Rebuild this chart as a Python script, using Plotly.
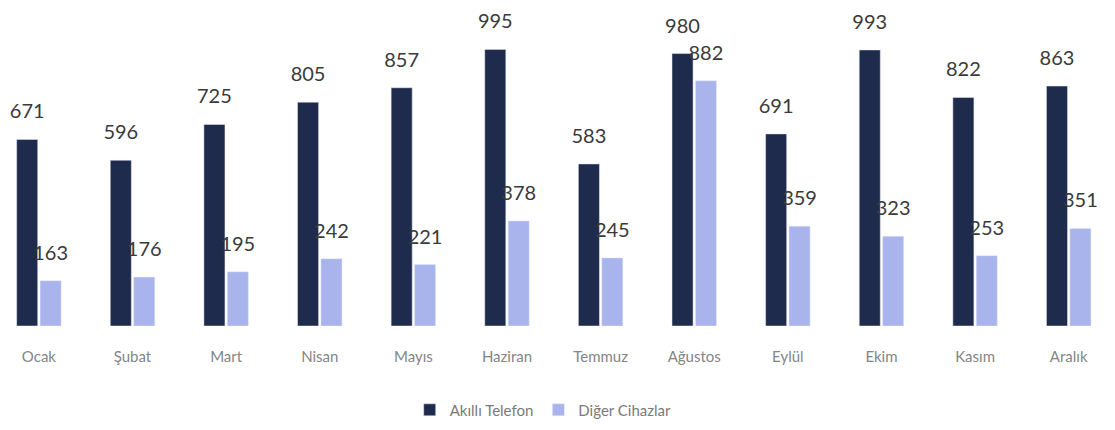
import plotly.graph_objects as go

months = ["Ocak", "Şubat", "Mart", "Nisan", "Mayıs", "Haziran",
          "Temmuz", "Ağustos", "Eylül", "Ekim", "Kasım", "Aralık"]
akilli_telefon = [671, 596, 725, 805, 857, 995, 583, 980, 691, 993, 822, 863]
diger_cihazlar = [163, 176, 195, 242, 221, 378, 245, 882, 359, 323, 253, 351]

label_font = dict(family="Lato, Open Sans, sans-serif", size=20, color="#3a3a3a")

fig = go.Figure()

fig.add_bar(name="Akıllı Telefon", x=months, y=akilli_telefon,
            marker_color="#1f2b4d", hoverinfo="skip")
fig.add_bar(name="Diğer Cihazlar", x=months, y=diger_cihazlar,
            marker_color="#a9b3ec", hoverinfo="skip")

# value labels: invisible markers push the text up off the bar tops
for vals in (akilli_telefon, diger_cihazlar):
    fig.add_scatter(
        x=months,
        y=vals,
        mode="markers+text",
        text=vals,
        textposition="top center",
        textfont=label_font,
        marker=dict(size=24, opacity=0),
        showlegend=False,
        hoverinfo="skip",
        cliponaxis=False,
    )

fig.update_layout(
    barmode="group",
    bargap=0.5,
    bargroupgap=0.1,
    scattermode="group",
    scattergap=0.5,
    width=1115,
    height=430,
    margin=dict(l=0, r=0, t=40, b=112),
    plot_bgcolor="white",
    paper_bgcolor="white",
    font=dict(family="Lato, Open Sans, sans-serif"),
    showlegend=True,
    legend=dict(
        orientation="h",
        x=0.48,
        xanchor="center",
        yref="container",
        y=0.065,
        yanchor="middle",
        font=dict(size=15, color="#7a7a7a"),
        itemwidth=30,
    ),
)

fig.update_xaxes(
    range=[-0.33, 11.58],
    automargin=False,
    showgrid=False,
    showline=False,
    ticks="",
    ticklabelstandoff=20,
    tickfont=dict(size=15, color="#858585"),
)
fig.update_yaxes(
    range=[0, 1000],
    visible=False,
    showgrid=False,
)

fig.write_html("out.html")
